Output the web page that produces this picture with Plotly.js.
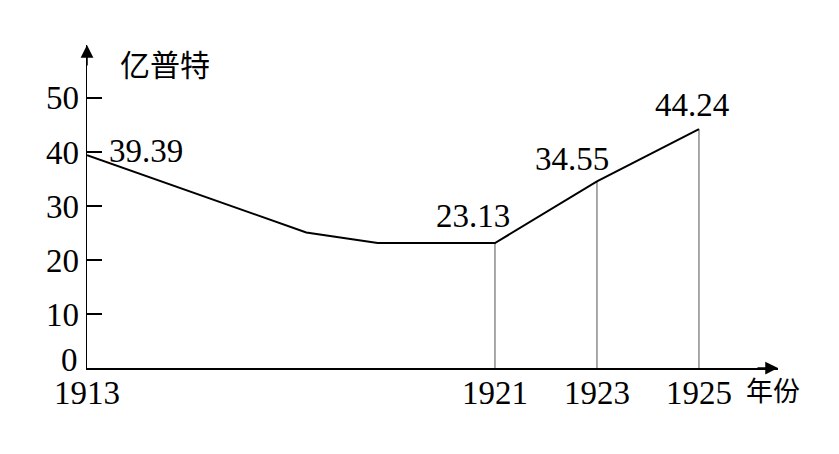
<!DOCTYPE html>
<html>
<head>
<meta charset="utf-8">
<script src="https://cdn.plot.ly/plotly-3.0.1.min.js"></script>
<style>html,body{margin:0;padding:0;background:#fff;}#chart{width:839px;height:454px;}</style>
</head>
<body>
<div id="chart"></div>
<script>
// ---- data ----
var years = [1913, 1917.3, 1918.7, 1921, 1923, 1925];
var values = [39.39, 25.1, 23.13, 23.13, 34.55, 44.24];
var labelYears = [1913, 1921, 1923, 1925];
var labelValues = [39.39, 23.13, 34.55, 44.24];
var labelTexts = ['39.39', '23.13', '34.55', '44.24'];
var dropYears = [1921, 1923, 1925];
var dropValues = [23.13, 34.55, 44.24];
var xTickVals = [1913, 1921, 1923, 1925];
var xTickText = ['1913', '1921', '1923', '1925'];
var yTickVals = [10, 20, 30, 40, 50];
var yOriginLabel = '0';
var yUnit = '亿普特';
var xUnit = '年份';

var serif = '"Liberation Serif", "Times New Roman", serif';
var cjk = '"Noto Sans CJK SC", sans-serif';
var fs = 33;

var traces = [];
for (var i = 0; i < dropYears.length; i++) {
  traces.push({
    x: [dropYears[i], dropYears[i]], y: [0, dropValues[i]],
    mode: 'lines', line: {color: '#7a7a7a', width: 1.3},
    hoverinfo: 'skip', showlegend: false
  });
}
traces.push({
  x: years, y: values, mode: 'lines',
  line: {color: '#000', width: 2}, hoverinfo: 'skip', showlegend: false
});

// label offsets (style, not data)
var lblStyle = [
  {xanchor: 'left', xshift: 20, yshift: 4},
  {xanchor: 'center', xshift: -22, yshift: 27},
  {xanchor: 'center', xshift: -25, yshift: 22},
  {xanchor: 'center', xshift: -7, yshift: 24}
];
var annotations = [];
for (var j = 0; j < labelTexts.length; j++) {
  annotations.push({
    x: labelYears[j], y: labelValues[j], xref: 'x', yref: 'y',
    text: labelTexts[j], showarrow: false,
    xanchor: lblStyle[j].xanchor, yanchor: 'middle',
    xshift: lblStyle[j].xshift, yshift: lblStyle[j].yshift,
    font: {family: serif, size: fs, color: '#000'}
  });
}
// origin tick label, raised above the x axis as in the reference
annotations.push({x: 0, y: 0, xref: 'paper', yref: 'y', text: yOriginLabel, showarrow: false,
  xanchor: 'right', yanchor: 'middle', xshift: -7, yshift: 8,
  font: {family: serif, size: fs, color: '#000'}});
// axis arrowheads
annotations.push({x: 0, y: 1, xref: 'paper', yref: 'paper', ax: 0, ay: 22, text: '',
  showarrow: true, arrowhead: 2, arrowsize: 1.7, arrowwidth: 1.5, arrowcolor: '#000'});
annotations.push({x: 1, y: 0, xref: 'paper', yref: 'paper', ax: -22, ay: 0, text: '',
  showarrow: true, arrowhead: 2, arrowsize: 1.7, arrowwidth: 1.5, arrowcolor: '#000'});
// unit labels
annotations.push({x: 0.113, y: 0.945, xref: 'paper', yref: 'paper', text: yUnit, showarrow: false,
  xanchor: 'center', yanchor: 'middle', font: {family: cjk, size: 30, color: '#000'}});
annotations.push({x: 0.993, y: -0.067, xref: 'paper', yref: 'paper', text: xUnit, showarrow: false,
  xanchor: 'center', yanchor: 'middle', font: {family: cjk, size: 27, color: '#000'}});

var layout = {
  width: 839, height: 454,
  margin: {l: 87, r: 61, t: 45, b: 86, pad: 0},
  paper_bgcolor: '#fff', plot_bgcolor: '#fff',
  showlegend: false,
  xaxis: {
    range: [1913, 1926.55], showgrid: false, zeroline: false,
    showline: true, linecolor: '#000', linewidth: 1.5,
    tickmode: 'array', tickvals: xTickVals, ticktext: xTickText, ticks: '',
    ticklabelstandoff: -5,
    tickfont: {family: serif, size: fs, color: '#000'}, fixedrange: true
  },
  yaxis: {
    range: [0, 59.8], showgrid: false, zeroline: false,
    showline: true, linecolor: '#000', linewidth: 1.5,
    tickmode: 'array', tickvals: yTickVals, ticks: 'inside', ticklen: 15, tickwidth: 1.3, tickcolor: '#000',
    tickfont: {family: serif, size: fs, color: '#000'}, fixedrange: true
  },
  annotations: annotations
};
Plotly.newPlot('chart', traces, layout, {staticPlot: true, displayModeBar: false});
</script>
</body>
</html>
